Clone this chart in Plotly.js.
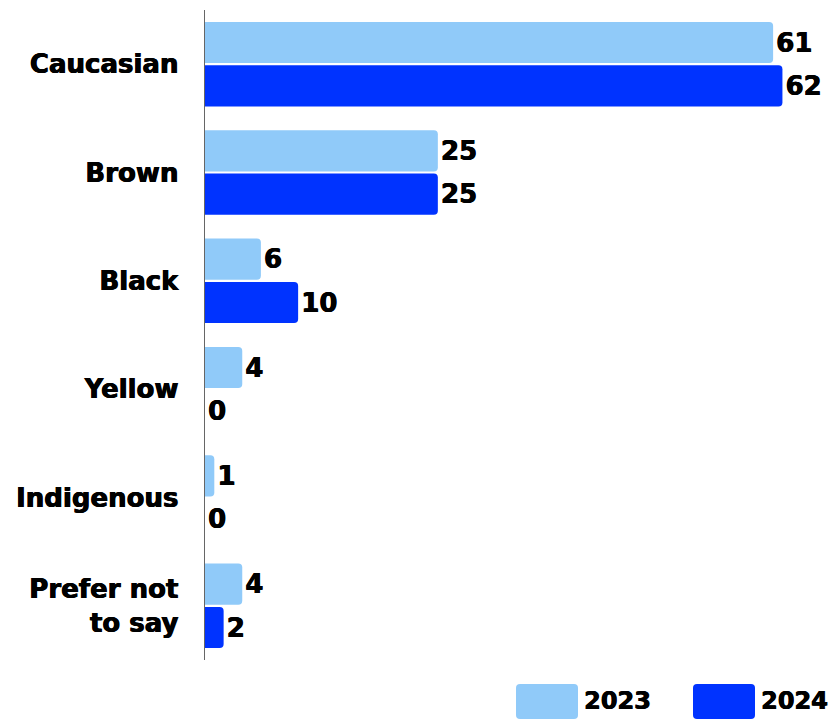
<!DOCTYPE html>
<html><head><meta charset="utf-8">
<script src="https://cdn.plot.ly/plotly-3.0.1.min.js"></script>
<style>html,body{margin:0;padding:0;background:#fff}</style>
</head><body><div id="chart" style="width:829px;height:720px"></div>
<script>
const categories = ["Caucasian", "Brown", "Black", "Yellow", "Indigenous", "Prefer not<br>to say"];
const values2023 = [61, 25, 6, 4, 1, 4];
const values2024 = [62, 25, 10, 0, 0, 2];
const seriesNames = ["2023", "2024"];
const colors = ["#90CAF9", "#0033FF"];

const FONT = "'DejaVu Sans', Lato, sans-serif";
const SH = "0.6px 0 0 #000, -0.3px 0 0 #000";
const mk = (vals, i) => ({
  type: "bar", orientation: "h", name: seriesNames[i],
  y: categories, x: vals,
  marker: {color: colors[i]},
  text: vals.map(String), textposition: "outside", cliponaxis: false,
  textfont: {family: FONT, size: 26, color: "#000", weight: "bold", shadow: SH},
  hoverinfo: "skip"
});

const PW = 624, PH = 650;
function rrect(x0, y0, w, h, r) { // x0,y0 in paper fractions; w,h,r in px
  const rx = r / PW, ry = r / PH, x1 = x0 + w / PW, y1 = y0 - h / PH;
  return `M${x0+rx},${y0} L${x1-rx},${y0} Q${x1},${y0} ${x1},${y0-ry} L${x1},${y1+ry} Q${x1},${y1} ${x1-rx},${y1} ` +
         `L${x0+rx},${y1} Q${x0},${y1} ${x0},${y1+ry} L${x0},${y0-ry} Q${x0},${y0} ${x0+rx},${y0} Z`;
}
const legendShapes = [], legendAnn = [];
const lx = [(516 - 205) / PW, (693 - 205) / PW];
seriesNames.forEach((n, i) => {
  const y0 = -24 / PH;
  legendShapes.push({type: "path", xref: "paper", yref: "paper", path: rrect(lx[i], y0, 62, 35, 4),
    fillcolor: colors[i], line: {width: 0}});
  legendAnn.push({xref: "paper", yref: "paper", x: lx[i] + 66 / PW, y: -41 / PH, xanchor: "left", yanchor: "middle",
    text: n, showarrow: false, font: {family: FONT, size: 24, color: "#000", weight: "bold", shadow: SH}});
});

Plotly.newPlot("chart", [mk(values2023, 0), mk(values2024, 1)], {
  width: 829, height: 720,
  margin: {l: 205, r: 0, t: 10, b: 60},
  barmode: "group", bargap: 0.2, bargroupgap: 0.05, barcornerradius: 4,
  showlegend: false,
  paper_bgcolor: "#fff", plot_bgcolor: "#fff",
  font: {family: FONT, color: "#000"},
  xaxis: {range: [0, 67], visible: false, fixedrange: true},
  yaxis: {autorange: "reversed", showline: true, linecolor: "#666", linewidth: 1.5,
    ticks: "", ticklabelstandoff: 20, showgrid: false, zeroline: false,
    tickfont: {family: FONT, size: 26, color: "#000", weight: "bold", shadow: SH}},
  shapes: legendShapes, annotations: legendAnn
}, {staticPlot: true});
</script></body></html>
